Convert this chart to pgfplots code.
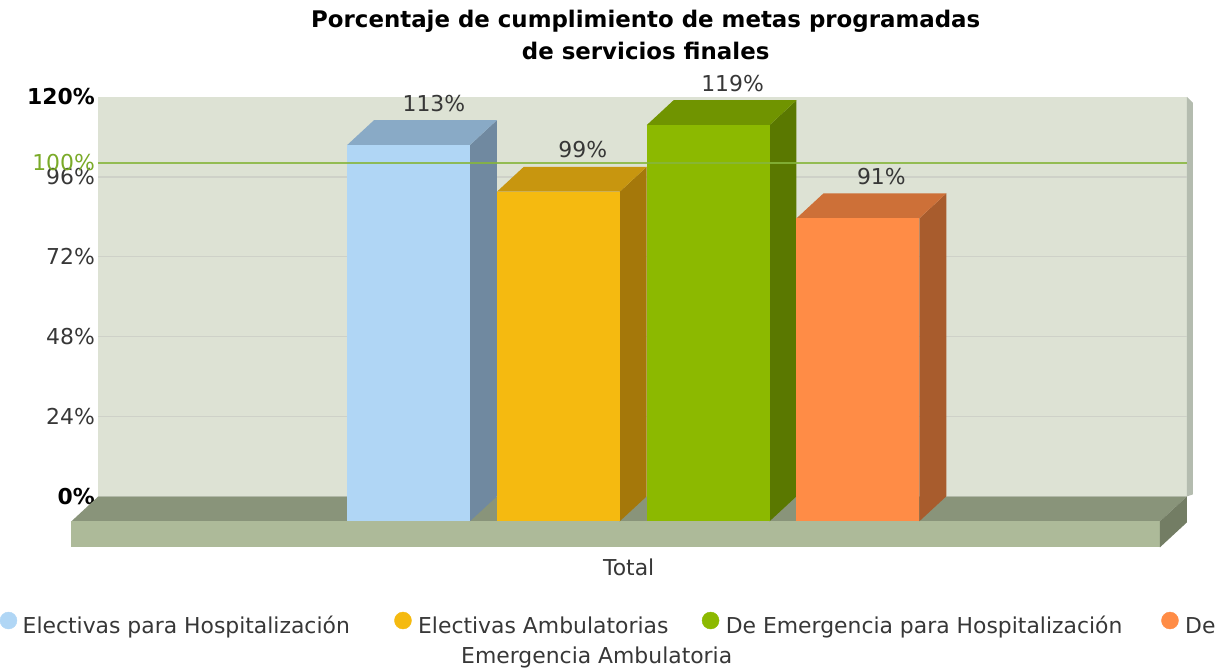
\documentclass[border=0pt]{standalone}
\usepackage{pgfplots}
\pgfplotsset{compat=1.18}
\usepackage{fontspec}
\setmainfont{DejaVu Sans}
\definecolor{wall}{RGB}{221,226,212}
\definecolor{wallside}{RGB}{180,188,175}
\definecolor{gridc}{RGB}{206,209,200}
\definecolor{limeline}{RGB}{135,182,60}
\definecolor{limetext}{RGB}{122,170,40}
\definecolor{floortop}{RGB}{137,148,122}
\definecolor{floorfront}{RGB}{173,186,153}
\definecolor{floorside}{RGB}{115,125,100}
\definecolor{labelgray}{RGB}{55,55,55}
\definecolor{bluefront}{RGB}{176,214,245}
\definecolor{bluetop}{RGB}{137,170,198}
\definecolor{blueside}{RGB}{112,137,160}
\definecolor{yelfront}{RGB}{245,186,16}
\definecolor{yeltop}{RGB}{200,150,15}
\definecolor{yelside}{RGB}{165,120,10}
\definecolor{grnfront}{RGB}{140,185,0}
\definecolor{grntop}{RGB}{112,148,0}
\definecolor{grnside}{RGB}{90,120,0}
\definecolor{orgfront}{RGB}{255,140,70}
\definecolor{orgtop}{RGB}{205,112,56}
\definecolor{orgside}{RGB}{168,92,45}
\begin{document}
\begin{tikzpicture}
\begin{axis}[
  x=1bp, y=3.33333bp,
  xmin=0, xmax=1224, ymin=-51.9, ymax=149.1,
  axis line style={draw=none},
  major tick length=0pt,
  xtick=\empty,
  ytick={0,24,48,72,96,120},
  yticklabels={{\color{black}\textbf{0\%}},24\%,48\%,72\%,96\%,{\color{black}\textbf{120\%}}},
  yticklabel style={anchor=east, xshift=97bp, text=labelgray, font=\fontsize{22}{26}\selectfont},
  extra y ticks={100},
  extra y tick labels={100\%},
  extra y tick style={yticklabel style={text=limetext, yshift=1bp}},
  title={Porcentaje de cumplimiento de metas programadas\\de servicios finales},
  title style={at={(0.527,1)}, anchor=north, yshift=-13bp, align=center,
    font=\bfseries\fontsize{23}{32}\selectfont, text=black},
]
% back wall
\addplot[fill=wall, draw=none] coordinates {(97,0)(1187,0)(1187,120)(97,120)} -- cycle;
\addplot[fill=wallside, draw=none] coordinates {(1187,120)(1193,118.2)(1193,0.6)(1187,0)} -- cycle;
% grid lines
\addplot[gridc, line width=1.5bp] coordinates {(97,24)(1187,24)};
\addplot[gridc, line width=1.5bp] coordinates {(97,48)(1187,48)};
\addplot[gridc, line width=1.5bp] coordinates {(97,72)(1187,72)};
\addplot[gridc, line width=1.5bp] coordinates {(97,96)(1187,96)};
% floor
\addplot[fill=floortop, draw=none] coordinates {(97,0)(1187,0)(1160,-7.5)(70,-7.5)} -- cycle;
\addplot[fill=floorfront, draw=none] coordinates {(70,-7.5)(1160,-7.5)(1160,-15.3)(70,-15.3)} -- cycle;
\addplot[fill=floorside, draw=none] coordinates {(1160,-7.5)(1187,0)(1187,-7.8)(1160,-15.3)} -- cycle;
% bar 1: Electivas para Hospitalizacion, 113
\addplot[fill=blueside, draw=none] coordinates {(469,-7.5)(496,0)(496,113)(469,105.5)} -- cycle;
\addplot[fill=bluetop, draw=none] coordinates {(346,105.5)(469,105.5)(496,113)(373,113)} -- cycle;
\addplot[fill=bluefront, draw=none] coordinates {(346,-7.5)(469,-7.5)(469,105.5)(346,105.5)} -- cycle;
% bar 2: Electivas Ambulatorias, 99
\addplot[fill=yelside, draw=none] coordinates {(619,-7.5)(646,0)(646,99)(619,91.5)} -- cycle;
\addplot[fill=yeltop, draw=none] coordinates {(496,91.5)(619,91.5)(646,99)(523,99)} -- cycle;
\addplot[fill=yelfront, draw=none] coordinates {(496,-7.5)(619,-7.5)(619,91.5)(496,91.5)} -- cycle;
% bar 3: De Emergencia para Hospitalizacion, 119
\addplot[fill=grnside, draw=none] coordinates {(769,-7.5)(796,0)(796,119)(769,111.5)} -- cycle;
\addplot[fill=grntop, draw=none] coordinates {(646,111.5)(769,111.5)(796,119)(673,119)} -- cycle;
\addplot[fill=grnfront, draw=none] coordinates {(646,-7.5)(769,-7.5)(769,111.5)(646,111.5)} -- cycle;
% bar 4: De Emergencia Ambulatoria, 91
\addplot[fill=orgside, draw=none] coordinates {(919,-7.5)(946,0)(946,91)(919,83.5)} -- cycle;
\addplot[fill=orgtop, draw=none] coordinates {(796,83.5)(919,83.5)(946,91)(823,91)} -- cycle;
\addplot[fill=orgfront, draw=none] coordinates {(796,-7.5)(919,-7.5)(919,83.5)(796,83.5)} -- cycle;
% 100% target line
\addplot[limeline, line width=2bp, opacity=0.85] coordinates {(97,100)(1187,100)};
% value labels
\addplot[draw=none, mark=none, nodes near coords={\pgfplotspointmeta\%}, point meta=explicit symbolic,
  nodes near coords style={anchor=south, yshift=5bp, text=labelgray, font=\fontsize{22}{26}\selectfont}]
  coordinates {(433,113)[113] (582,99)[99] (732,119)[119] (881,91)[91]};
% category label
\node[text=labelgray, font=\fontsize{22}{26}\selectfont] at (axis cs:628,-21.3) {Total};
% legend
\addplot[only marks, mark=*, mark size=8.5bp, color=bluefront] coordinates {(7,-37.3)};
\addplot[only marks, mark=*, mark size=8.5bp, color=yelfront] coordinates {(402,-37.3)};
\addplot[only marks, mark=*, mark size=8.5bp, color=grnfront] coordinates {(710,-37.3)};
\addplot[only marks, mark=*, mark size=8.5bp, color=orgfront] coordinates {(1170,-37.3)};
\begin{scope}[every node/.style={text=labelgray, inner sep=0pt, font=\fontsize{22}{26}\selectfont}]
\node[anchor=base west] at (axis cs:21,-41.3) {Electivas para Hospitalización};
\node[anchor=base west] at (axis cs:417,-41.3) {Electivas Ambulatorias};
\node[anchor=base west] at (axis cs:725,-41.3) {De Emergencia para Hospitalización};
\node[anchor=base west] at (axis cs:1185,-41.3) {De};
\node[anchor=base] at (axis cs:596,-50.1) {Emergencia Ambulatoria};
\end{scope}
\end{axis}
\end{tikzpicture}
\end{document}
